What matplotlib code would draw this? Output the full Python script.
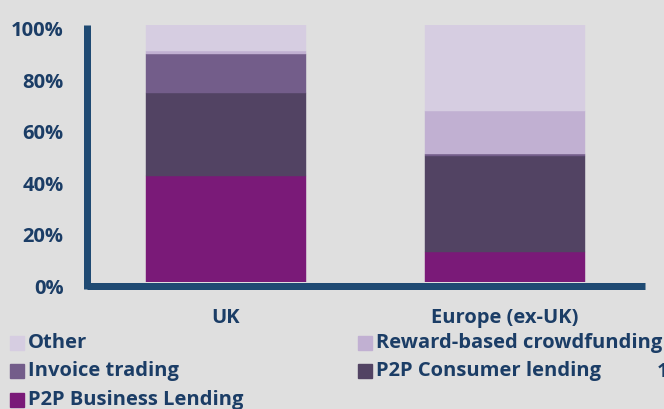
import matplotlib
matplotlib.use("Agg")
import matplotlib.pyplot as plt
import matplotlib.transforms as mtransforms
from matplotlib.patches import Rectangle

# shares in percent
regions = ["UK", "Europe (ex-UK)"]
business = [41.1, 11.6]
consumer = [32.3, 37.6]
invoice = [15.2, 0.7]
reward = [1.3, 16.7]
other = [10.1, 33.4]
ticks = [0, 20, 40, 60, 80, 100]

navy = "#1b3d66"
axis_col = "#1f4a73"
bg = "#dfdfdf"
cols = {
    "P2P Business Lending": "#7a1a78",
    "P2P Consumer lending": "#524363",
    "Invoice trading": "#735d8a",
    "Reward-based crowdfunding": "#c1b0d2",
    "Other": "#d6cde1",
}

plt.rcParams["font.family"] = ["Open Sans", "DejaVu Sans"]
plt.rcParams["font.weight"] = "bold"
fs = 14.5

W, H = 664, 409
fig = plt.figure(figsize=(W / 100, H / 100), dpi=100, facecolor=bg)
# axes box in pixels: left 87, right 645, bottom 282 (0%), top 25 (100%)
ax = fig.add_axes([87 / W, 1 - 282 / H, (645 - 87) / W, 257 / H])
ax.set_facecolor(bg)

x = [0, 1]
bw = 160 / 279
bottom = [0, 0]
for name, vals in [("P2P Business Lending", business), ("P2P Consumer lending", consumer),
                   ("Invoice trading", invoice), ("Reward-based crowdfunding", reward),
                   ("Other", other)]:
    ax.bar(x, vals, bw, bottom=bottom, color=cols[name], edgecolor=cols[name], linewidth=0.3)
    bottom = [b + v for b, v in zip(bottom, vals)]

ax.set_xlim(-139 / 279, (558 - 139) / 279)
ax.set_ylim(0, 100)

for s in ["top", "right"]:
    ax.spines[s].set_visible(False)
lw = 7 * 72 / 100
ax.spines["left"].set_linewidth(lw)
ax.spines["left"].set_color(axis_col)
ax.spines["left"].set_bounds(-7 / 257 * 100, 100)
ax.spines["bottom"].set_linewidth(lw)
ax.spines["bottom"].set_color(axis_col)
ax.spines["bottom"].set_position(("outward", 3.5 * 72 / 100))
ax.spines["bottom"].set_capstyle("butt")
ax.spines["left"].set_capstyle("butt")

ax.set_yticks(ticks)
ax.set_yticklabels([f"{t}%" for t in ticks], fontsize=fs, color=navy, fontweight="bold")
ax.tick_params(axis="y", length=0, pad=17)
shift = mtransforms.ScaledTranslation(0, -4 / 100, fig.dpi_scale_trans)
for lab in ax.get_yticklabels():
    lab.set_transform(lab.get_transform() + shift)
ax.set_xticks(x)
ax.set_xticklabels(regions, fontsize=fs, color=navy, fontweight="bold")
ax.tick_params(axis="x", length=0, pad=16)

# legend, two columns
legend_items = [("Other", 10, 343), ("Invoice trading", 10, 371), ("P2P Business Lending", 10, 400),
                ("Reward-based crowdfunding", 358, 343), ("P2P Consumer lending", 358, 371)]
for name, px, py in legend_items:
    fig.patches.append(Rectangle((px / W, 1 - (py + 7) / H), 14 / W, 14 / H,
                                 transform=fig.transFigure, color=cols[name]))
    fig.text((px + 18) / W, 1 - py / H, name, fontsize=fs, color=navy, fontweight="bold",
             va="center", ha="left")

# page number, partly outside the frame as in the source slide
fig.text(657 / W, 1 - 372 / H, "1", fontsize=fs, color=navy, fontweight="bold", va="center", ha="left")

fig.savefig("out.png", dpi=100, facecolor=bg)
